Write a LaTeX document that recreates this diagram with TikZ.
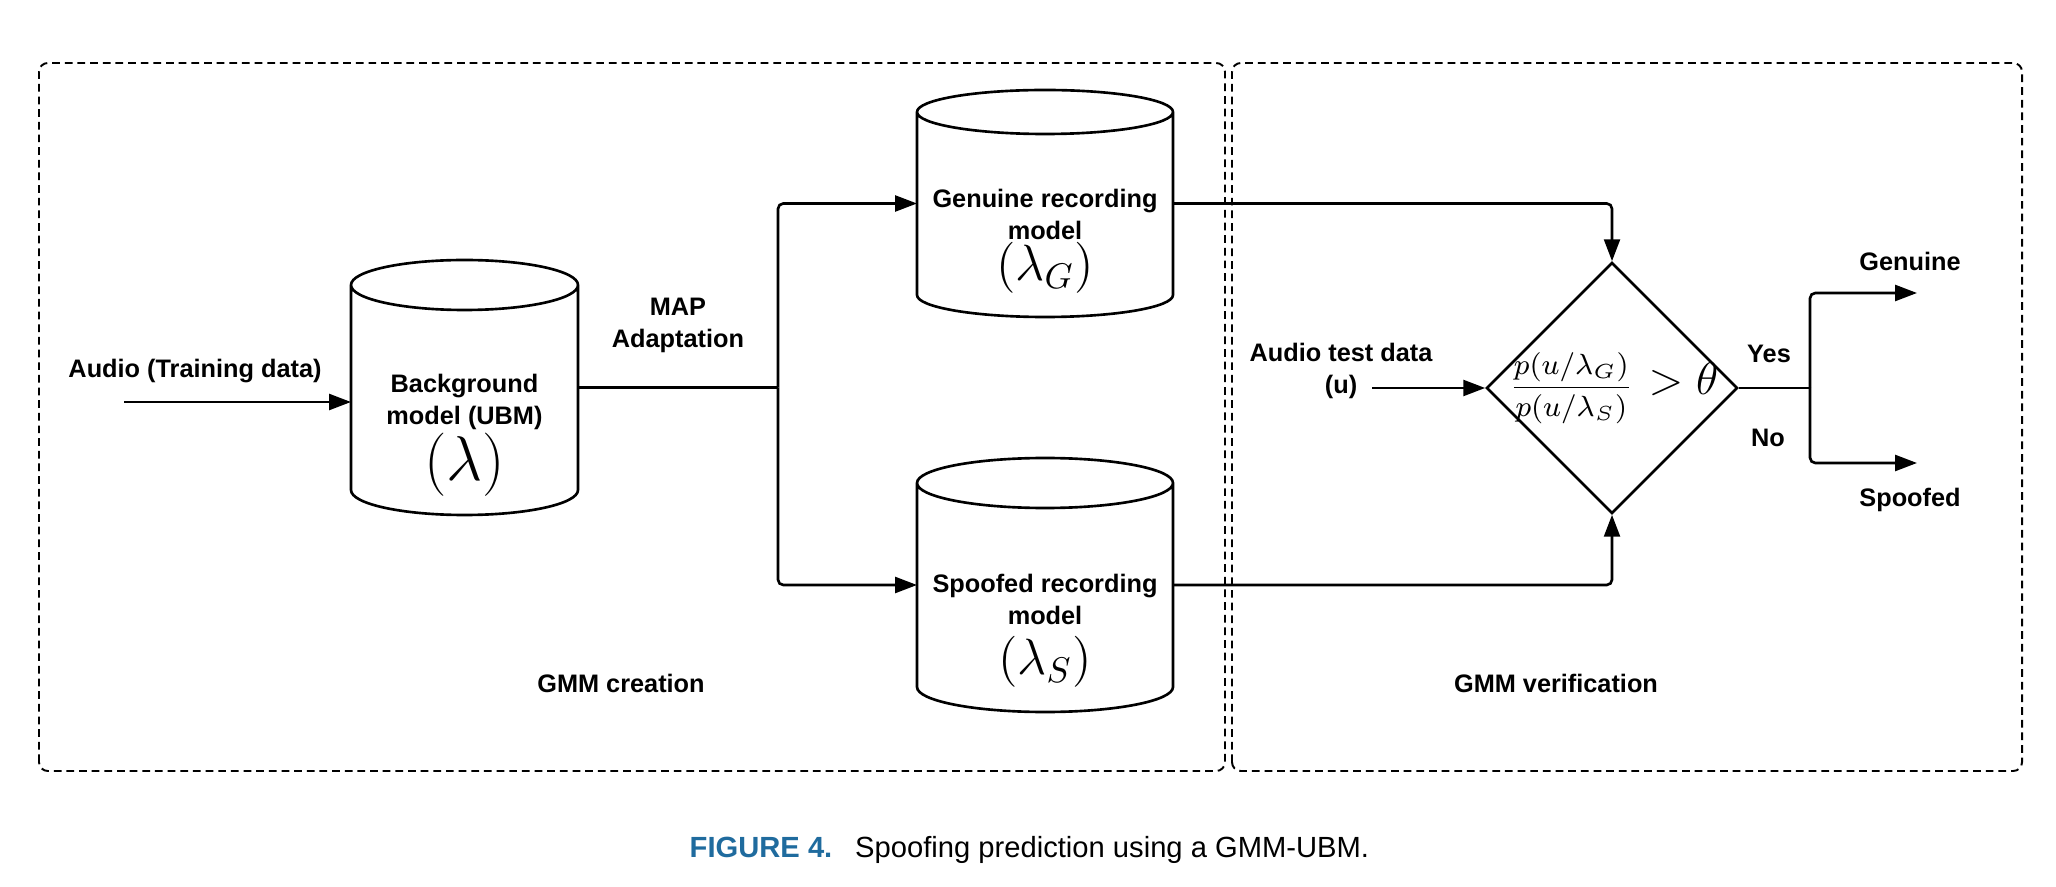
\RequirePackage{fix-cm}
\documentclass[tikz,border=0pt]{standalone}
\usepackage[no-math]{fontspec}
\setmainfont{Liberation Sans}
\usetikzlibrary{arrows.meta,shapes.geometric}
\definecolor{figblue}{RGB}{31,107,158}
\newcommand{\drawdb}[3]{%
  \draw[wire] ([yshift=-#3]#1.north west) -- ([yshift=#3]#1.south west)
    arc[start angle=180,end angle=360,x radius=#2,y radius=#3]
    -- ([yshift=-#3]#1.north east)
    arc[start angle=0,end angle=360,x radius=#2,y radius=#3];}

\begin{document}
\begin{tikzpicture}[
  wire/.style={line width=0.75pt},
  flow/.style={wire,-{Triangle[length=6.2pt,width=4.5pt]},rounded corners=1.5pt},
  region/.style={line width=0.55pt,dash pattern=on 2.2pt off 1.4pt,rounded corners=2.5pt},
  db/.style={rectangle,inner sep=0pt,outer sep=0pt},
  lab/.style={inner sep=0pt,align=center,font=\fontsize{7.2}{9.1}\selectfont\bfseries},
  decision/.style={diamond,draw,wire,inner sep=0pt,minimum width=2.51cm,minimum height=2.51cm}]
  \useasboundingbox (0,0) rectangle (20.56,8.86);
  \draw[region] (0.39,1.15) rectangle (12.25,8.23);
  \draw[region] (12.32,1.15) rectangle (20.22,8.23);

  \node[db,minimum width=2.27cm,minimum height=2.55cm] (ubm) at (4.645,4.985) {};
  \node[db,minimum width=2.56cm,minimum height=2.27cm] (genuine) at (10.45,6.825) {};
  \node[db,minimum width=2.56cm,minimum height=2.54cm] (spoofed) at (10.45,3.01) {};
  \drawdb{ubm}{1.135cm}{0.25cm}
  \drawdb{genuine}{1.28cm}{0.22cm}
  \drawdb{spoofed}{1.28cm}{0.25cm}
  \node[lab,anchor=north] (ubmtext) at ([yshift=0.145cm]ubm.center)
    {Background\\model (UBM)\\{\fontsize{18}{18}\selectfont$(\lambda)$}};
  \node[lab,anchor=north] (gentext) at ([yshift=0.155cm]genuine.center)
    {Genuine recording\\model\\{\fontsize{14.5}{14.5}\selectfont$(\lambda_G)$}};
  \node[lab,anchor=north] (spftext) at ([yshift=0.12cm]spoofed.center)
    {Spoofed recording\\model\\[2.5pt]{\fontsize{14.5}{14.5}\selectfont$(\lambda_S)$}};

  \node[lab] (train) at (1.95,5.15) {Audio (Training data)};
  \node[lab] (map) at (6.78,5.61) {MAP\\Adaptation};
  \coordinate (trainin) at (1.24,4.84);
  \coordinate (split) at (7.78,4.985);
  \draw[flow] (trainin) -- (trainin -| ubm.west);
  \draw[wire] (ubm.east) -- (split);
  \draw[flow] (split) |- (genuine.west);
  \draw[flow] (split) |- (spoofed.west);

  \node[decision] (test) at (16.12,4.98) {};
  \node[inner sep=0pt] (ratio) at (16.14,4.98)
    {{\fontsize{8.3}{10}\selectfont$\displaystyle\frac{p(u/\lambda_G)}{p(u/\lambda_S)}$}\hspace{4.5pt}{\fontsize{13}{15}\selectfont$>\theta$}};
  \draw[flow] (genuine.east) -| (test.north);
  \draw[flow] (spoofed.east) -| (test.south);
  \node[lab] (testdata) at (13.41,5.15) {Audio test data\\(u)};
  \coordinate (testin) at (13.72,4.98);
  \draw[flow] (testin) -- (test.west);

  \coordinate (decide) at (18.10,4.98);
  \coordinate (yesout) at (19.17,5.93);
  \coordinate (noout) at (19.17,4.23);
  \draw[wire] (test.east) -- (decide);
  \draw[flow] (decide) |- (yesout);
  \draw[flow] (decide) |- (noout);
  \node[lab] (yes) at (17.69,5.32) {Yes};
  \node[lab] (no) at (17.68,4.48) {No};
  \node[lab] (genlab) at (19.10,6.25) {Genuine};
  \node[lab] (spflab) at (19.10,3.86) {Spoofed};

  \node[lab] (creation) at (6.21,2.03) {GMM creation};
  \node[lab] (verification) at (15.56,2.03) {GMM verification};
  \node[anchor=base west,inner sep=0pt,font=\fontsize{8.3}{10}\selectfont] (caption) at (6.89,0.29)
    {\textcolor{figblue}{\bfseries FIGURE 4.}\hspace{6.5pt}Spoofing prediction using a GMM-UBM.};
\end{tikzpicture}
\end{document}
